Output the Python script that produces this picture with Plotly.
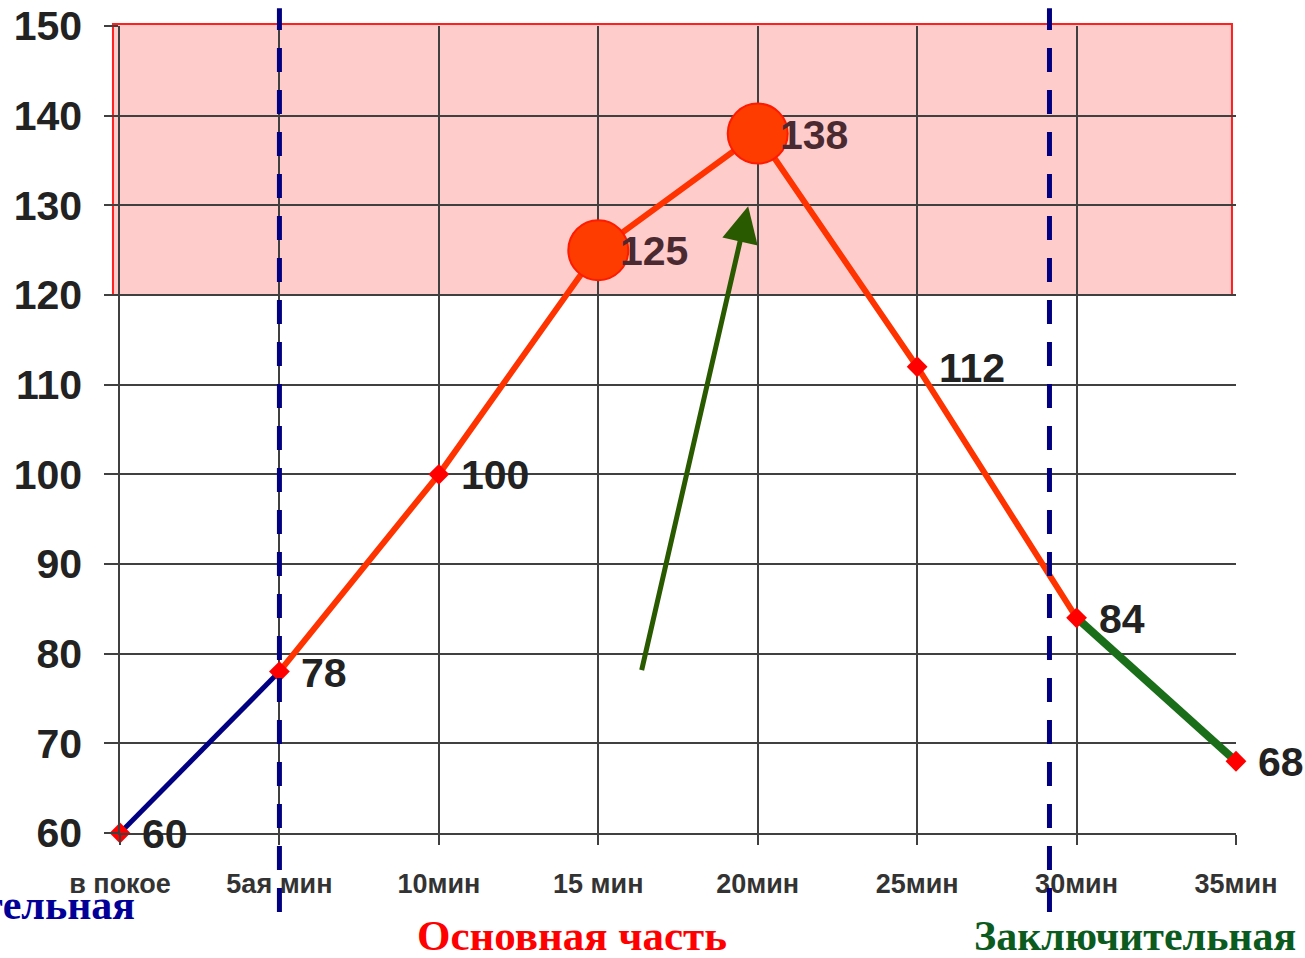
import plotly.graph_objects as go

# Heart rate over the lesson
categories = ["в покое", "5ая мин", "10мин", "15 мин", "20мин", "25мин", "30мин", "35мин"]
heart_rate = [60, 78, 100, 125, 138, 112, 84, 68]
y_ticks = [60, 70, 80, 90, 100, 110, 120, 130, 140, 150]

# phase boundaries (in category-index units) and the highlighted load zone
phase_bounds = [1.0, 5.83]
zone_low, zone_high = 120, 150
peak_idx = [3, 4]

x = list(range(len(categories)))
x_span = x[-1] - x[0]

fig = go.Figure()

# warm-up segment
fig.add_trace(go.Scatter(x=x[0:2], y=heart_rate[0:2], mode="lines", cliponaxis=False,
                         line=dict(color="#000080", width=5), hoverinfo="skip"))
# main part
fig.add_trace(go.Scatter(x=x[1:7], y=heart_rate[1:7], mode="lines", cliponaxis=False,
                         line=dict(color="#ff3300", width=6), hoverinfo="skip"))
# cool-down
fig.add_trace(go.Scatter(x=x[6:8], y=heart_rate[6:8], mode="lines", cliponaxis=False,
                         line=dict(color="#1a6e1a", width=8), hoverinfo="skip"))
# point markers
fig.add_trace(go.Scatter(x=x, y=heart_rate, mode="markers", cliponaxis=False,
                         marker=dict(symbol="diamond", color="#ff0000", size=16),
                         hoverinfo="skip"))
# peak highlight circles
fig.add_trace(go.Scatter(x=[x[i] for i in peak_idx], y=[heart_rate[i] for i in peak_idx],
                         mode="markers", cliponaxis=False,
                         marker=dict(symbol="circle", color="#ff3c00", size=60,
                                     line=dict(color="#ff1a00", width=2)),
                         hoverinfo="skip"))

# value labels
for xi, v in zip(x, heart_rate):
    inside = zone_low <= v <= zone_high
    fig.add_annotation(x=xi, y=v, xref="x", yref="y", text=str(v), showarrow=False,
                       xanchor="left", yanchor="middle", xshift=20, yshift=-1,
                       font=dict(family="Liberation Sans", size=41, weight="bold",
                                 color="#4a2a30" if inside else "#222222"))

# load zone
fig.add_shape(type="rect", xref="paper", yref="paper",
              x0=-0.0063, x1=0.9964,
              y0=(zone_low - 60) / 90, y1=1.0025,
              fillcolor="#ffcccc", line=dict(color="#ff2020", width=2), layer="below")

# phase boundaries
for b in phase_bounds:
    fig.add_shape(type="line", xref="paper", yref="paper",
                  x0=b / x_span, x1=b / x_span, y0=-0.098, y1=1.022,
                  line=dict(color="#000080", width=5, dash="24px,18px"), layer="above")

# arrow pointing to the peak
fig.add_annotation(x=3.94, y=129.9, ax=3.27, ay=78.0, xref="x", yref="y",
                   axref="x", ayref="y", text="", showarrow=True,
                   arrowhead=2, arrowsize=1.45, arrowwidth=5, arrowcolor="#2a5a00")

# phase captions
fig.add_annotation(x=0.0155, y=-0.089, xref="paper", yref="paper",
                   text="<b>Подготовительная</b>", showarrow=False,
                   xanchor="right", yanchor="middle",
                   font=dict(family="Liberation Serif", size=42, color="#000099"))
fig.add_annotation(x=0.405, y=-0.127, xref="paper", yref="paper",
                   text="<b>Основная часть</b>", showarrow=False,
                   xanchor="center", yanchor="middle",
                   font=dict(family="Liberation Serif", size=43, color="#ff0000"))
fig.add_annotation(x=1.0555, y=-0.128, xref="paper", yref="paper",
                   text="<b>Заключительная</b>", showarrow=False,
                   xanchor="right", yanchor="middle",
                   font=dict(family="Liberation Serif", size=42, color="#0b5a1e"))

fig.update_layout(
    width=1305, height=958,
    margin=dict(l=120, r=69, t=26, b=125, autoexpand=False),
    paper_bgcolor="white", plot_bgcolor="rgba(0,0,0,0)",
    showlegend=False,
    xaxis=dict(range=[x[0], x[-1]], tickvals=x, ticktext=categories, automargin=False,
               showgrid=True, gridcolor="#404040", gridwidth=1.5,
               showline=True, linecolor="#404040", linewidth=1.5,
               ticks="outside", ticklen=10, tickcolor="#404040", tickwidth=1.5,
               ticklabelstandoff=16, zeroline=False,
               tickfont=dict(family="Liberation Sans", size=27, weight="bold",
                             color="#333333")),
    yaxis=dict(range=[60, 150], tickvals=y_ticks, automargin=False,
               showgrid=True, gridcolor="#404040", gridwidth=1.5,
               showline=True, linecolor="#404040", linewidth=1.5,
               ticks="outside", ticklen=14, tickcolor="#404040", tickwidth=1.5,
               ticklabelstandoff=14, zeroline=False,
               tickfont=dict(family="Liberation Sans", size=41, weight="bold",
                             color="#222222")),
)

fig.write_html("out.html")
